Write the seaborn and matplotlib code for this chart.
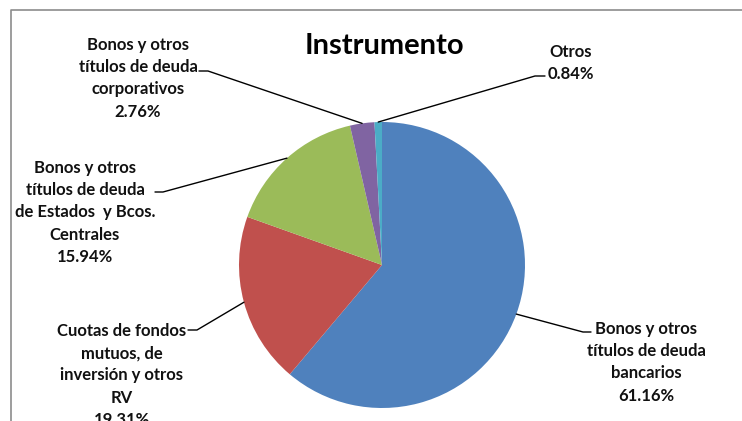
import numpy as np
import matplotlib
matplotlib.use("Agg")
import matplotlib.pyplot as plt
import seaborn as sns

labels = ["Bonos y otros\ntítulos de deuda\nbancarios",
          "Cuotas de fondos\nmutuos, de\ninversión y otros\nRV",
          "Bonos y otros\ntítulos de deuda\nde Estados  y Bcos.\nCentrales",
          "Bonos y otros\ntítulos de deuda\ncorporativos",
          "Otros"]
values = [61.16, 19.31, 15.94, 2.76, 0.84]
colors = ["#4F81BD", "#C0504D", "#9BBB59", "#8064A2", "#4BACC6"]

sns.set_theme(style="white")
plt.rcParams['font.family'] = ['Lato', 'DejaVu Sans']

W, H = 742, 421
fig = plt.figure(figsize=(W/100, H/100), dpi=100)
ax = fig.add_axes([0, 0, 1, 1])

cx, cy, R = 382, H - 265, 143
wedges, _ = ax.pie(values, colors=colors, startangle=90, counterclock=False,
                   center=(cx, cy), radius=R, frame=True,
                   wedgeprops=dict(linewidth=0))
ax.set_xlim(0, W)
ax.set_ylim(0, H)
ax.set_aspect("equal")
ax.axis("off")

# frame
ax.plot([11, 11, W + 5], [-5, H - 10, H - 10], color="#8C8C8C", lw=1.2, clip_on=False)

ax.text(384, H - 46, "Instrumento", ha="center", va="center", fontsize=21,
        fontweight="bold", color="#000000")

# text positions (layout): center x, top y in pixels, leader anchor point
layout = [
    dict(tx=646, ty=321, ax=591, ay=332, d=-8),
    dict(tx=122, ty=323, ax=188, ay=330, d=9),
    dict(tx=85, ty=160, ax=155, ay=192, d=8),
    dict(tx=138, ty=37, ax=199, ay=71, d=9),
    dict(tx=571, ty=44, ax=545, ay=76, d=-10),
]
for w, lab, val, L in zip(wedges, labels, values, layout):
    txt = f"{lab}\n{val:.2f}%"
    ax.text(L["tx"], H - L["ty"], txt, ha="center", va="top", fontsize=12,
            fontweight="bold", linespacing=1.48, color="#111111")
    ang = np.deg2rad((w.theta1 + w.theta2) / 2)
    px, py = cx + R * np.cos(ang), cy + R * np.sin(ang)
    x0, y0 = L["ax"], H - L["ay"]
    ax.plot([x0, x0 + L["d"], px], [y0, y0, py], color="black", lw=1)

fig.savefig("out.png", dpi=100)
